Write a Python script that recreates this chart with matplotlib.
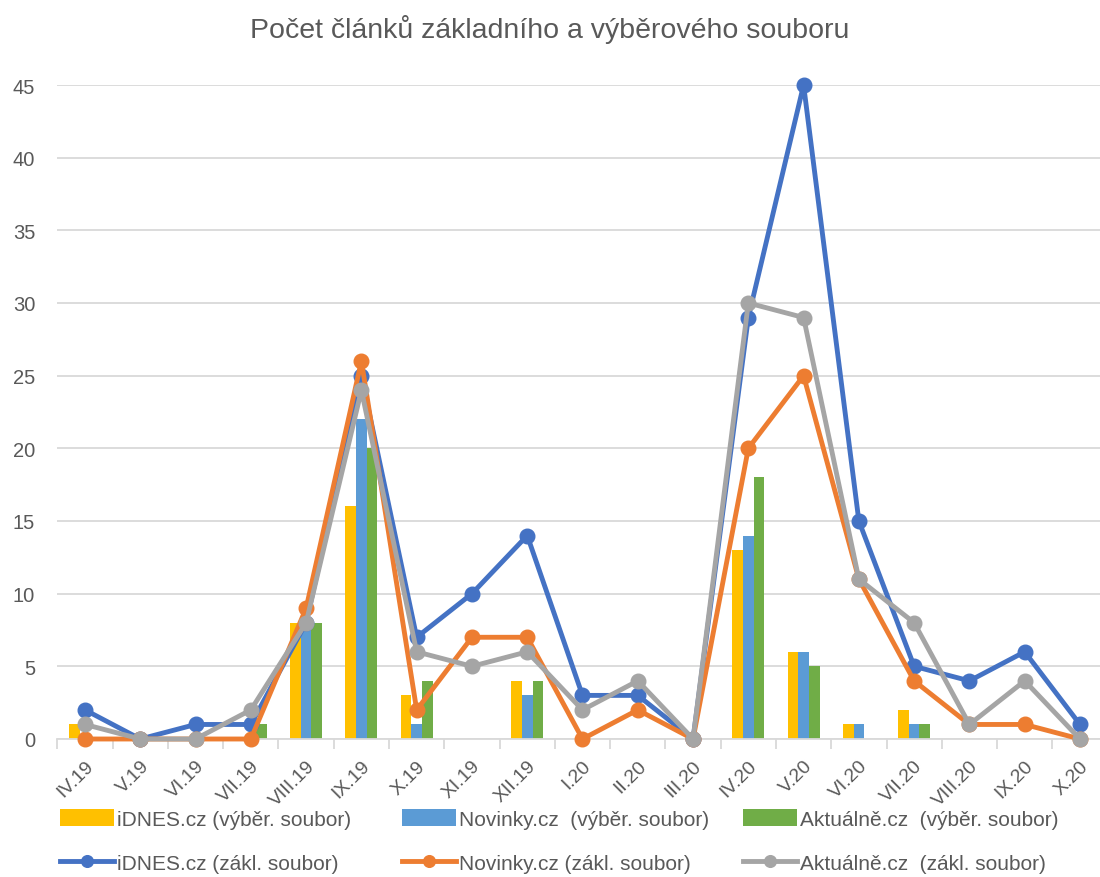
import matplotlib
matplotlib.use("Agg")
import matplotlib.pyplot as plt
import numpy as np

categories = ["IV.19", "V.19", "VI.19", "VII.19", "VIII.19", "IX.19", "X.19", "XI.19", "XII.19",
              "I.20", "II.20", "III.20", "IV.20", "V.20", "VI.20", "VII.20", "VIII.20", "IX.20", "X.20"]

idnes_vyber = [1, 0, 0, 0, 8, 16, 3, 0, 4, 0, 0, 0, 13, 6, 1, 2, 0, 0, 0]
novinky_vyber = [0, 0, 0, 0, 8, 22, 1, 0, 3, 0, 0, 0, 14, 6, 1, 1, 0, 0, 0]
aktualne_vyber = [0, 0, 0, 1, 8, 20, 4, 0, 4, 0, 0, 0, 18, 5, 0, 1, 0, 0, 0]

idnes_zakl = [2, 0, 1, 1, 8, 25, 7, 10, 14, 3, 3, 0, 29, 45, 15, 5, 4, 6, 1]
novinky_zakl = [0, 0, 0, 0, 9, 26, 2, 7, 7, 0, 2, 0, 20, 25, 11, 4, 1, 1, 0]
aktualne_zakl = [1, 0, 0, 2, 8, 24, 6, 5, 6, 2, 4, 0, 30, 29, 11, 8, 1, 4, 0]

bar_labels = ["iDNES.cz (výběr. soubor)", "Novinky.cz  (výběr. soubor)", "Aktuálně.cz  (výběr. soubor)"]
line_labels = ["iDNES.cz (zákl. soubor)", "Novinky.cz (zákl. soubor)", "Aktuálně.cz  (zákl. soubor)"]

plt.rcParams['font.family'] = ['Liberation Sans', 'DejaVu Sans']

txt = "#595959"
fig = plt.figure(figsize=(11, 8.78), dpi=100)
W, H = 1100, 878
left = 57.4 / W
right = 1107.6 / W
bottom = (H - 740) / H
top = (H - 86) / H
ax = fig.add_axes([left, bottom, right - left, top - bottom])

n = len(categories)
x = np.arange(n)
gap = 2.19
bw = 1.0 / (3 + gap)
bar_colors = ["#FFC000", "#5B9BD5", "#70AD47"]
line_colors = ["#4472C4", "#ED7D31", "#A5A5A5"]

bars = []
for i, (vals, c, lab) in enumerate(zip([idnes_vyber, novinky_vyber, aktualne_vyber], bar_colors, bar_labels)):
    b = ax.bar(x + (i - 1) * bw, vals, width=bw, color=c, label=lab, zorder=2)
    bars.append(b)

lines = []
for vals, c, lab in zip([idnes_zakl, novinky_zakl, aktualne_zakl], line_colors, line_labels):
    l, = ax.plot(x, vals, color=c, lw=3.5, marker="o", markersize=10.5, label=lab, zorder=3,
                 solid_joinstyle="round", clip_on=False)
    lines.append(l)

ax.set_xlim(-0.5, n - 0.5)
ax.set_ylim(0, 45)
ax.set_yticks(np.arange(0, 46, 5))
ax.yaxis.grid(True, color="#d9d9d9", lw=1.3, zorder=0)
ax.set_axisbelow(True)
for s in ["top", "right", "left"]:
    ax.spines[s].set_visible(False)
ax.spines["bottom"].set_color("#d9d9d9")
ax.spines["bottom"].set_linewidth(1.3)
ax.tick_params(axis="y", length=0, labelsize=14.5, labelcolor=txt, pad=16)

ax.set_xticks(x)
ax.set_xticklabels(categories, rotation=45, ha="right", rotation_mode="anchor", fontsize=14, color=txt)
ax.tick_params(axis="x", which="major", length=0, pad=13)
ax.set_xticks(np.arange(-0.5, n, 1.0), minor=True)
ax.tick_params(axis="x", which="minor", length=7, color="#d9d9d9", width=1.3)

fig.text(0.5, 1 - 30 / H, "Počet článků základního a výběrového souboru", ha="center", va="center",
         fontsize=20.5, color=txt)

col_x = [60 / W, 402 / W, 743 / W]
for j in range(3):
    fig.legend([bars[j], lines[j]], [bar_labels[j], line_labels[j]], ncol=1, loc="center left",
               bbox_to_anchor=(col_x[j], 1 - 842 / H), frameon=False, fontsize=15, labelcolor=txt,
               handlelength=2.6, handletextpad=0.15, labelspacing=1.15, handleheight=0.9,
               borderpad=0, borderaxespad=0, markerscale=0.8)

fig.savefig("out.png", dpi=100)
